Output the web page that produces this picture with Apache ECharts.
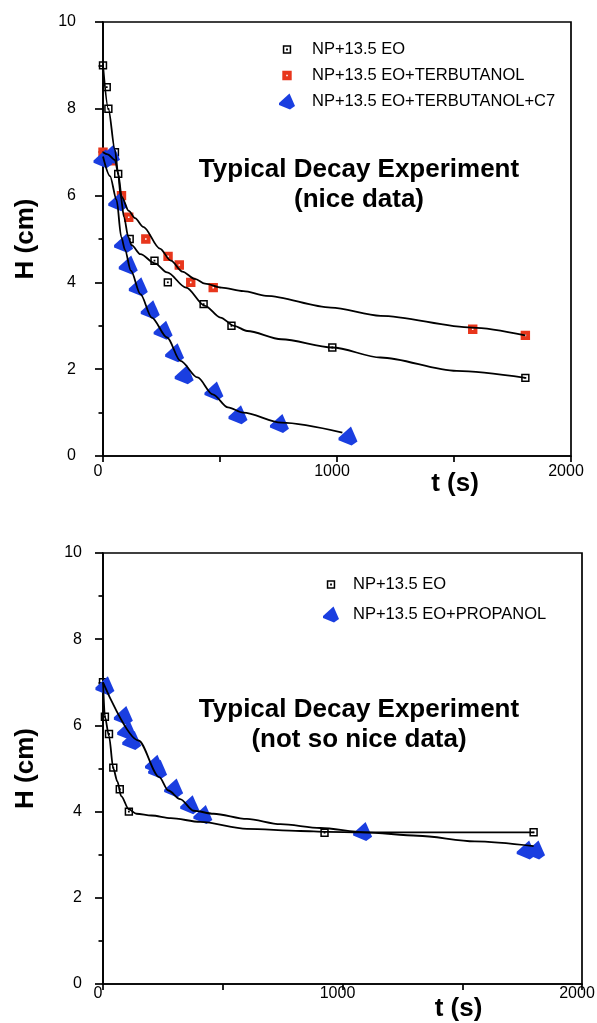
<!DOCTYPE html>
<html><head><meta charset="utf-8">
<script src="https://cdn.jsdelivr.net/npm/echarts@6/dist/echarts.min.js"></script>
<style>html,body{margin:0;padding:0;background:#fff}#c{width:597px;height:1023px}</style>
</head><body><div id="c"></div>
<script>
// ---- data ----
// top chart: t (s), H (cm)
const topEO   = [[0,9.0],[16,8.5],[23,8.0],[51,7.0],[65,6.5],[114,5.0],[220,4.5],[277,4.0],[430,3.5],[549,3.0],[980,2.5],[1805,1.8]];
const topTerb = [[0,7.0],[40,6.8],[79,6.0],[110,5.5],[183,5.0],[278,4.6],[326,4.4],[375,4.0],[471,3.88],[1580,2.92],[1805,2.78]];
const topC7   = [[0,6.85],[32,6.95],[63,5.86],[88,4.9],[108,4.4],[151,3.9],[202,3.37],[257,2.9],[306,2.38],[347,1.87],[474,1.5],[577,0.95],[754,0.75],[1047,0.46]];
const fitTopEO   = [[0,9.0],[23,8.0],[51,7.05],[65,6.5],[75,6.0],[90,5.5],[108,5.05],[122,4.86],[160,4.65],[222,4.44],[274,4.23],[355,3.88],[436,3.46],[502,3.19],[560,3.0],[616,2.88],[762,2.69],[980,2.5],[1186,2.27],[1511,1.96],[1805,1.8]];
const fitTopTerb = [[0,7.0],[20,6.95],[51,6.82],[65,6.5],[80,5.97],[110,5.65],[137,5.48],[172,5.28],[243,4.78],[290,4.5],[339,4.25],[393,4.08],[436,3.97],[507,3.88],[600,3.8],[697,3.69],[974,3.42],[1186,3.23],[1577,2.96],[1805,2.78]];
const fitTopC7   = [[0,6.9],[30,6.45],[58,5.9],[78,5.05],[94,4.75],[119,4.27],[160,3.73],[208,3.19],[274,2.73],[331,2.19],[404,1.81],[469,1.42],[534,1.12],[599,1.0],[762,0.77],[1023,0.54]];
// bottom chart
const botEO   = [[0,7.0],[8,6.2],[25,5.8],[43,5.02],[70,4.52],[108,4.0],[925,3.51],[1798,3.52]];
const botProp = [[8,6.92],[85,6.23],[99,5.88],[120,5.65],[215,5.1],[228,4.98],[295,4.55],[362,4.16],[417,3.93],[1084,3.54],[1767,3.11],[1806,3.11]];
const fitBotEO   = [[0,7.0],[8,6.2],[25,5.75],[43,5.0],[60,4.7],[76,4.36],[108,4.05],[140,3.95],[203,3.91],[283,3.85],[406,3.76],[601,3.6],[824,3.55],[936,3.53],[1076,3.52],[1798,3.52]];
const fitBotProp = [[0,7.0],[148,5.65],[235,4.8],[273,4.49],[322,4.29],[378,4.02],[462,3.95],[601,3.83],[741,3.71],[908,3.62],[1092,3.52],[1314,3.44],[1552,3.31],[1798,3.2]];

const namesTop = ['NP+13.5 EO','NP+13.5 EO+TERBUTANOL','NP+13.5 EO+TERBUTANOL+C7'];
const namesBot = ['NP+13.5 EO','NP+13.5 EO+PROPANOL'];
const titleTop = 'Typical Decay Experiment\n(nice data)';
const titleBot = 'Typical Decay Experiment\n(not so nice data)';
const xName = 't (s)', yName = 'H (cm)';

// ---- styles ----
const FONT = "'Liberation Sans', Arial, Helvetica, sans-serif";
const RED = '#e8361c', BLUE = '#1a3ee0';
const CORNERS = 'M0 0 L0.01 0 L0 0.01 Z M16 16 L15.99 16 L16 15.99 Z ';
const SYM_EO = 'path://' + CORNERS + 'M3.8 3.8 L12.2 3.8 L12.2 12.2 L3.8 12.2 Z M5.3 5.3 L5.3 10.7 L10.7 10.7 L10.7 5.3 Z M7.1 7.1 L8.9 7.1 L8.9 8.9 L7.1 8.9 Z';
const SYM_RED = 'path://' + CORNERS + 'M3.3 3.3 L12.7 3.3 L12.7 12.7 L3.3 12.7 Z M7.2 7.2 L7.2 8.8 L8.8 8.8 L8.8 7.2 Z';
const SYM_BLUE = 'path://M0 9.5 L10.5 0 L16 12.5 L11 16 L0 11.5 Z';

function xAx(gi, labelMargin, nameGap, namePad) {
  return {
    type: 'value', gridIndex: gi, min: 0, max: 2000, interval: 1000,
    name: xName, nameLocation: 'middle', nameGap: nameGap, nameMoveOverlap: false,
    nameTextStyle: {fontSize: 26, fontWeight: 'bold', color: '#000', fontFamily: FONT, padding: [0, 0, 0, namePad]},
    axisLine: {onZero: false, lineStyle: {color: '#000', width: 1.7}},
    axisTick: {length: 6, lineStyle: {color: '#000', width: 1.7}},
    minorTick: {show: true, splitNumber: 2, length: 6, lineStyle: {color: '#000', width: 1.7}},
    splitLine: {show: false}, minorSplitLine: {show: false},
    axisLabel: {fontSize: 16, color: '#000', fontFamily: FONT, margin: labelMargin, padding: [0, 10, 0, 0],
      formatter: v => String(v)}
  };
}
function yAx(gi, labelMargin) {
  return {
    type: 'value', gridIndex: gi, min: 0, max: 10, interval: 2,
    name: yName, nameLocation: 'middle', nameGap: 64, nameMoveOverlap: false,
    nameTextStyle: {fontSize: 26, fontWeight: 'bold', color: '#000', fontFamily: FONT},
    axisLine: {onZero: false, lineStyle: {color: '#000', width: 1.7}},
    axisTick: {length: 8, lineStyle: {color: '#000', width: 1.7}},
    minorTick: {show: true, splitNumber: 2, length: 4.5, lineStyle: {color: '#000', width: 1.7}},
    splitLine: {show: false}, minorSplitLine: {show: false},
    axisLabel: {fontSize: 16, color: '#000', fontFamily: FONT, margin: labelMargin, padding: [0, 0, 6, 0],
      formatter: v => String(v)}
  };
}
function pts(name, gi, data, symbol, color, size) {
  return {name, type: 'scatter', xAxisIndex: gi, yAxisIndex: gi, data, symbol, symbolSize: size,
    itemStyle: {color, opacity: 1}, z: 2, silent: true};
}
function fit(gi, data) {
  return {type: 'line', xAxisIndex: gi, yAxisIndex: gi, data, showSymbol: false, symbol: 'none',
    smooth: 0.3, smoothMonotone: 'x', lineStyle: {color: '#000', width: 1.8}, z: 3, silent: true};
}

const chart = echarts.init(document.getElementById('c'), null, {renderer: 'canvas'});
chart.setOption({
  animation: false,
  backgroundColor: '#fff',
  title: [
    {text: titleTop, left: 354, top: 150, textAlign: 'center',
     textStyle: {fontSize: 26, fontWeight: 'bold', color: '#000', fontFamily: FONT, lineHeight: 30}},
    {text: titleBot, left: 354, top: 690, textAlign: 'center',
     textStyle: {fontSize: 26, fontWeight: 'bold', color: '#000', fontFamily: FONT, lineHeight: 30}}
  ],
  legend: [
    {data: namesTop, orient: 'vertical', left: 274, top: 36, itemWidth: 16, itemHeight: 16,
     itemGap: 9, selectedMode: false,
     textStyle: {fontSize: 16.5, color: '#000', fontFamily: FONT, padding: [0, 0, 0, 12]}},
    {data: namesBot, orient: 'vertical', left: 318, top: 571, itemWidth: 16, itemHeight: 16,
     itemGap: 13, selectedMode: false,
     textStyle: {fontSize: 16.5, color: '#000', fontFamily: FONT, padding: [0, 0, 0, 9]}}
  ],
  grid: [
    {left: 103, top: 22, width: 468, height: 434, show: true, borderColor: '#000', borderWidth: 1.7,
     backgroundColor: 'transparent', containLabel: false, outerBoundsMode: 'none'},
    {left: 103, top: 553, width: 479, height: 431, show: true, borderColor: '#000', borderWidth: 1.7,
     backgroundColor: 'transparent', containLabel: false, outerBoundsMode: 'none'}
  ],
  xAxis: [xAx(0, 8, 15, 236), xAx(1, 2, 12, 232)],
  yAxis: [yAx(0, 27), yAx(1, 21)],
  series: [
    pts(namesTop[0], 0, topEO, SYM_EO, '#000', 16),
    pts(namesTop[1], 0, topTerb, SYM_RED, RED, 16),
    pts(namesTop[2], 0, topC7, SYM_BLUE, BLUE, 19),
    fit(0, fitTopEO), fit(0, fitTopTerb), fit(0, fitTopC7),
    pts(namesBot[0], 1, botEO, SYM_EO, '#000', 16),
    pts(namesBot[1], 1, botProp, SYM_BLUE, BLUE, 19),
    fit(1, fitBotEO), fit(1, fitBotProp)
  ]
});
</script></body></html>
